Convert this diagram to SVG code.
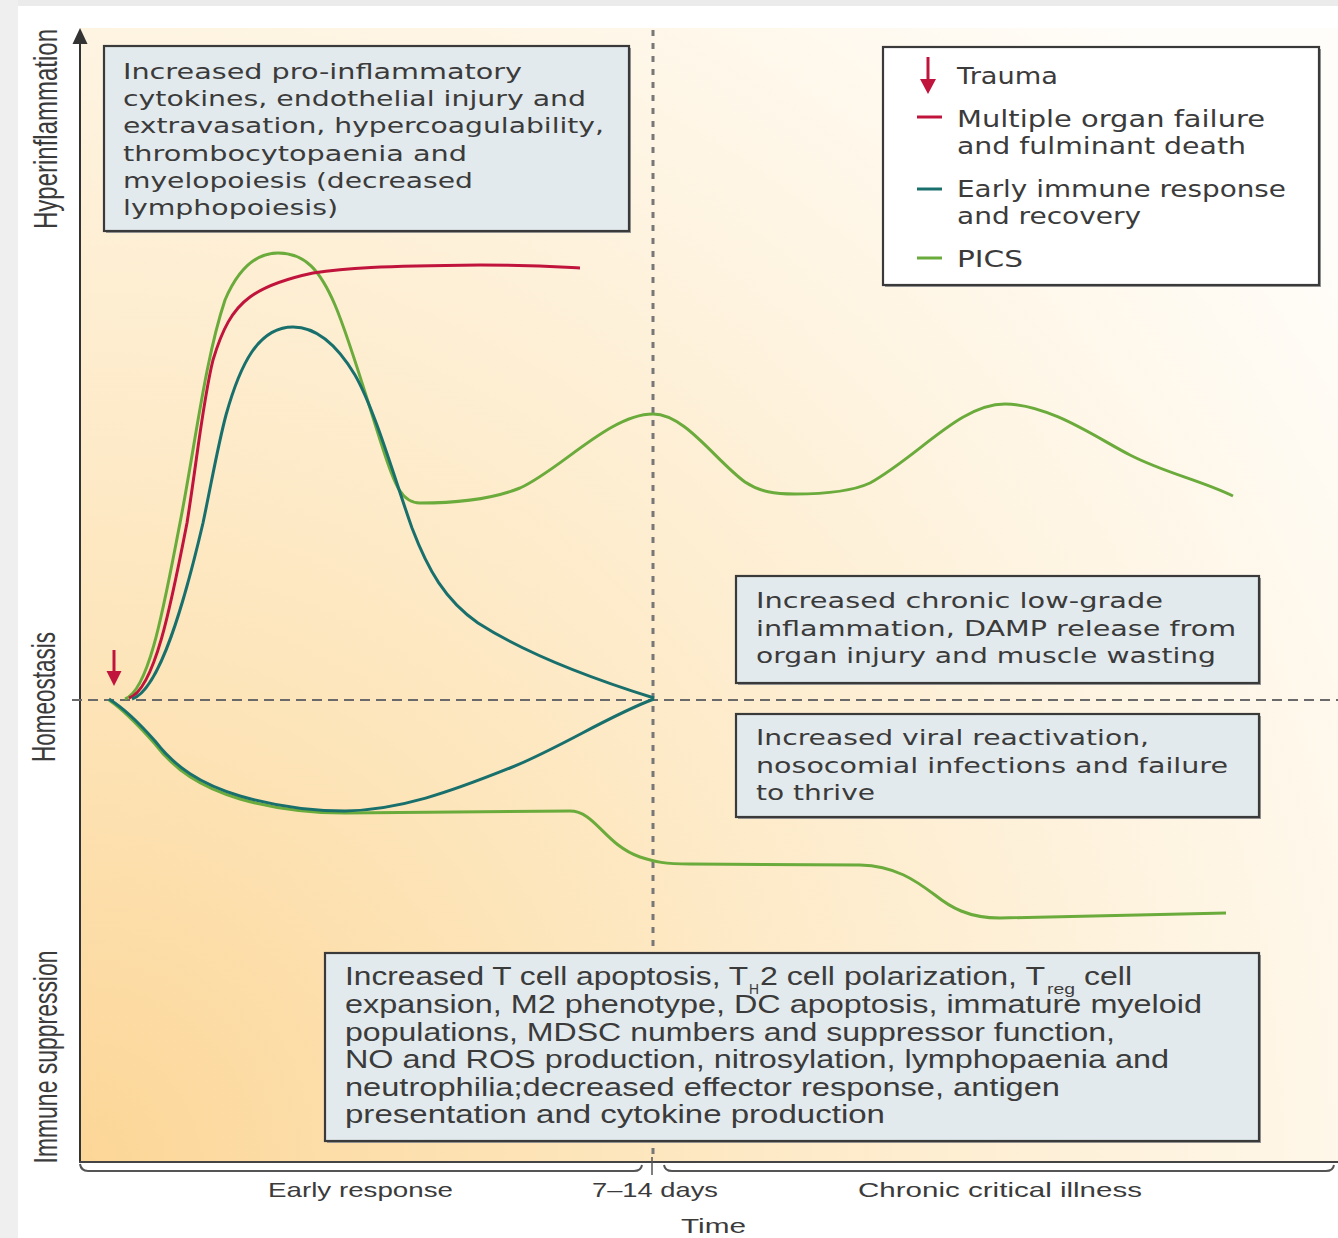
<svg xmlns="http://www.w3.org/2000/svg" width="1338" height="1238" viewBox="0 0 1338 1238">
<defs>
<radialGradient id="bg" gradientUnits="userSpaceOnUse" cx="80" cy="1162" r="1550">
<stop offset="0" stop-color="#fcd697"/>
<stop offset="0.35" stop-color="#fde6bd"/>
<stop offset="0.7" stop-color="#fef3df"/>
<stop offset="1" stop-color="#fffdf9"/>
</radialGradient>
<style>
.box{fill:#e3eaed;stroke:#3a3a3a;stroke-width:2.2}
.shadow{fill:#9a9a9a}
.wide{font-family:"DejaVu Sans","Liberation Sans",sans-serif;font-size:22px;fill:#3b3b3b}
.leg{font-family:"DejaVu Sans","Liberation Sans",sans-serif;font-size:23px;fill:#3b3b3b}
.cond{font-family:"Liberation Sans",Arial,sans-serif;font-size:25px;fill:#3b3b3b}
.sub{font-size:14px}
.ax{font-family:"Liberation Sans",Arial,sans-serif;font-size:21px;fill:#3b3b3b}
.vax{font-family:"Liberation Sans",Arial,sans-serif;font-size:24px;fill:#3b3b3b}
.red{fill:none;stroke:#c0143c;stroke-width:3}
.teal{fill:none;stroke:#186f6c;stroke-width:3}
.green{fill:none;stroke:#6aab3c;stroke-width:3}
</style>
</defs>
<rect x="0" y="0" width="1338" height="1238" fill="#ffffff"/>
<rect x="0" y="0" width="1338" height="6" fill="#ebebeb"/>
<rect x="0" y="0" width="18" height="1238" fill="#efefef"/>
<rect x="80" y="28" width="1258" height="1134" fill="url(#bg)"/>

<!-- axes -->
<g id="axes">
<line x1="80" y1="40" x2="80" y2="1163" stroke="#333" stroke-width="2"/>
<polygon points="80,28 72.5,44 87.5,44" fill="#333"/>
<line x1="79" y1="1162" x2="1338" y2="1162" stroke="#444" stroke-width="2"/>
<path d="M80,1164 Q81,1171 88,1171 L634,1171 Q641,1171 642,1165" fill="none" stroke="#555" stroke-width="2"/>
<path d="M664,1165 Q665,1171 672,1171 L1326,1171 Q1333,1171 1334,1165" fill="none" stroke="#555" stroke-width="2"/>
<line x1="652" y1="1157" x2="652" y2="1175" stroke="#555" stroke-width="1.5"/>
<line x1="72" y1="700" x2="1338" y2="700" stroke="#6a6a6a" stroke-width="2" stroke-dasharray="10 6"/>
<line x1="653" y1="30" x2="653" y2="1160" stroke="#777" stroke-width="3" stroke-dasharray="6 7"/>
<text class="vax" transform="translate(57,129) scale(1.4,1) rotate(-90)" text-anchor="middle" textLength="200" lengthAdjust="spacingAndGlyphs">Hyperinflammation</text>
<text class="vax" transform="translate(55,697) scale(1.4,1) rotate(-90)" text-anchor="middle" textLength="130" lengthAdjust="spacingAndGlyphs">Homeostasis</text>
<text class="vax" transform="translate(57,1057) scale(1.4,1) rotate(-90)" text-anchor="middle" textLength="213" lengthAdjust="spacingAndGlyphs">Immune suppression</text>
<text class="ax" x="268" y="1197" textLength="185" lengthAdjust="spacingAndGlyphs">Early response</text>
<text class="ax" x="592" y="1197" textLength="126" lengthAdjust="spacingAndGlyphs">7–14 days</text>
<text class="ax" x="858" y="1197" textLength="284" lengthAdjust="spacingAndGlyphs">Chronic critical illness</text>
<text class="ax" x="681" y="1233" font-size="22" textLength="65" lengthAdjust="spacingAndGlyphs">Time</text>
</g>

<!-- curves -->
<g id="connectors">
<path class="green" d="M125,699 C150,690 165,600 180,523 S205,360 225,300 C240,265 258,253 278,253 C305,253 320,270 335,305 C350,340 370,410 385,455 C395,485 402,503 420,503 C450,503 490,500 520,488 C560,470 610,414 653,414 C685,414 715,460 745,482 C760,492 775,494 795,494 C830,494 855,490 870,483 C920,455 960,404 1005,404 C1050,404 1100,440 1130,455 C1165,473 1200,480 1233,496"/>
<path class="red" d="M129,698 C155,690 172,600 187,523 C197,460 203,400 213,360 C222,330 232,310 250,297 C265,286 285,279 313,273 C345,268 380,266 480,265 C530,265 560,267 580,268"/>
<path class="teal" d="M132,699 C160,690 185,600 203,523 C212,480 218,445 226,415 C240,365 258,327 293,327 C320,327 340,350 355,375 C375,410 395,480 412,528 C428,570 445,600 478,623 C520,650 580,675 654,698"/>
<path class="green" d="M109,700 C125,711 140,727 155,744 C175,770 200,787 240,799 C275,809 310,813 345,813 L570,811 C595,811 605,845 640,857 C655,862 665,864 690,864 L860,865 C895,866 915,880 935,895 C950,907 968,918 1000,918 L1226,913"/>
<path class="teal" d="M109,699 C125,709 140,724 155,741 C175,767 200,784 240,796 C275,806 310,811 345,811 C400,810 450,792 510,768 C560,748 610,715 654,699"/>
<g id="trauma-arrow">
<line x1="114" y1="650" x2="114" y2="674" stroke="#c0143c" stroke-width="3"/>
<polygon points="106.5,671 121.5,671 114,686" fill="#c0143c"/>
</g>
</g>

<!-- top-left box -->
<g id="box-hyperinflammation">
<rect class="shadow" x="106" y="48" width="525" height="185"/>
<rect class="box" x="104" y="46" width="525" height="185"/>
<text class="wide" x="123" y="79" textLength="399" lengthAdjust="spacingAndGlyphs">Increased pro-inflammatory</text>
<text class="wide" x="123" y="106" textLength="463" lengthAdjust="spacingAndGlyphs">cytokines, endothelial injury and</text>
<text class="wide" x="123" y="133" textLength="481" lengthAdjust="spacingAndGlyphs">extravasation, hypercoagulability,</text>
<text class="wide" x="123" y="161" textLength="344" lengthAdjust="spacingAndGlyphs">thrombocytopaenia and</text>
<text class="wide" x="123" y="188" textLength="350" lengthAdjust="spacingAndGlyphs">myelopoiesis (decreased</text>
<text class="wide" x="123" y="215" textLength="215" lengthAdjust="spacingAndGlyphs">lymphopoiesis)</text>
</g>

<!-- legend -->
<g id="legend">
<rect class="shadow" x="885" y="49" width="436" height="238"/>
<rect x="883" y="47" width="436" height="238" fill="#ffffff" stroke="#3a3a3a" stroke-width="2.2"/>
<line x1="928" y1="57" x2="928" y2="81" stroke="#c0143c" stroke-width="3"/>
<polygon points="920,79 936,79 928,94" fill="#c0143c"/>
<text class="leg" x="957" y="84" textLength="101" lengthAdjust="spacingAndGlyphs">Trauma</text>
<line x1="917" y1="117" x2="942" y2="117" stroke="#c0143c" stroke-width="3"/>
<text class="leg" x="957" y="127" textLength="308" lengthAdjust="spacingAndGlyphs">Multiple organ failure</text>
<text class="leg" x="957" y="154" textLength="289" lengthAdjust="spacingAndGlyphs">and fulminant death</text>
<line x1="917" y1="189" x2="942" y2="189" stroke="#186f6c" stroke-width="3"/>
<text class="leg" x="957" y="197" textLength="329" lengthAdjust="spacingAndGlyphs">Early immune response</text>
<text class="leg" x="957" y="224" textLength="184" lengthAdjust="spacingAndGlyphs">and recovery</text>
<line x1="917" y1="258" x2="942" y2="258" stroke="#6aab3c" stroke-width="3"/>
<text class="leg" x="957" y="267" textLength="66" lengthAdjust="spacingAndGlyphs">PICS</text>
</g>

<!-- chronic inflammation box -->
<g id="box-chronic">
<rect class="shadow" x="738" y="578" width="523" height="107"/>
<rect class="box" x="736" y="576" width="523" height="107"/>
<text class="wide" x="756" y="608" textLength="407" lengthAdjust="spacingAndGlyphs">Increased chronic low-grade</text>
<text class="wide" x="756" y="636" textLength="480" lengthAdjust="spacingAndGlyphs">inflammation, DAMP release from</text>
<text class="wide" x="756" y="663" textLength="460" lengthAdjust="spacingAndGlyphs">organ injury and muscle wasting</text>
</g>

<!-- viral box -->
<g id="box-viral">
<rect class="shadow" x="738" y="716" width="523" height="103"/>
<rect class="box" x="736" y="714" width="523" height="103"/>
<text class="wide" x="756" y="745" textLength="393" lengthAdjust="spacingAndGlyphs">Increased viral reactivation,</text>
<text class="wide" x="756" y="773" textLength="472" lengthAdjust="spacingAndGlyphs">nosocomial infections and failure</text>
<text class="wide" x="756" y="800" textLength="119" lengthAdjust="spacingAndGlyphs">to thrive</text>
</g>

<!-- immune suppression box -->
<g id="box-suppression">
<rect class="shadow" x="327" y="955" width="934" height="188"/>
<rect class="box" x="325" y="953" width="934" height="188"/>
<text class="cond"><tspan x="345" y="985" textLength="403" lengthAdjust="spacingAndGlyphs">Increased T cell apoptosis, T</tspan><tspan class="sub" x="749" y="994" textLength="10" lengthAdjust="spacingAndGlyphs">H</tspan><tspan x="760" y="985" textLength="285" lengthAdjust="spacingAndGlyphs">2 cell polarization, T</tspan><tspan class="sub" x="1047" y="994" textLength="28" lengthAdjust="spacingAndGlyphs">reg</tspan><tspan x="1084" y="985" textLength="48" lengthAdjust="spacingAndGlyphs">cell</tspan></text>
<text class="cond" x="345" y="1013" textLength="857" lengthAdjust="spacingAndGlyphs">expansion, M2 phenotype, DC apoptosis,  immature myeloid</text>
<text class="cond" x="345" y="1041" textLength="770" lengthAdjust="spacingAndGlyphs">populations, MDSC numbers and suppressor function,</text>
<text class="cond" x="345" y="1068" textLength="824" lengthAdjust="spacingAndGlyphs">NO and ROS production, nitrosylation, lymphopaenia and</text>
<text class="cond" x="345" y="1096" textLength="715" lengthAdjust="spacingAndGlyphs">neutrophilia;decreased effector response, antigen</text>
<text class="cond" x="345" y="1123" textLength="540" lengthAdjust="spacingAndGlyphs">presentation and cytokine production</text>
</g>
</svg>
